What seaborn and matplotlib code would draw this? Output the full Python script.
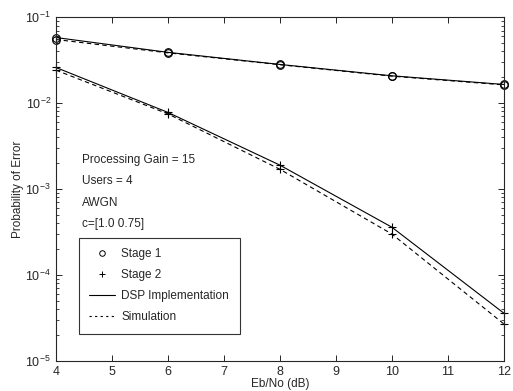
import matplotlib
matplotlib.use("Agg")
import matplotlib.pyplot as plt
from matplotlib.lines import Line2D
import seaborn as sns
import pandas as pd

ebno = [4, 6, 8, 10, 12]
stage1_dsp = [0.058, 0.039, 0.0282, 0.0208, 0.0165]
stage1_sim = [0.055, 0.0385, 0.0280, 0.0206, 0.0163]
stage2_dsp = [0.026, 0.0078, 0.0019, 3.6e-4, 3.6e-5]
stage2_sim = [0.0242, 0.0075, 0.0017, 3.0e-4, 2.7e-5]

notes = ["Processing Gain = 15", "Users = 4", "AWGN", "c=[1.0 0.75]"]

sns.set_style("ticks")
plt.rcParams["font.family"] = ["Liberation Sans", "DejaVu Sans"]
plt.rcParams["mathtext.fontset"] = "custom"
plt.rcParams["mathtext.rm"] = "Liberation Sans"

fig = plt.figure(figsize=(5.13, 3.91), dpi=100)
ax = fig.add_axes([0.109, 0.077, 0.873, 0.879])

series = [
    (stage1_dsp, "-", "o"),
    (stage1_sim, (0, (4, 3)), "o"),
    (stage2_dsp, "-", "+"),
    (stage2_sim, (0, (4, 3)), "+"),
]
for vals, ls, mk in series:
    df = pd.DataFrame({"x": ebno, "y": vals})
    sns.lineplot(data=df, x="x", y="y", ax=ax, color="black", linewidth=0.8,
                 linestyle=ls, marker=mk, markersize=5.5, markerfacecolor="none",
                 markeredgecolor="black", markeredgewidth=0.8, clip_on=False)

ax.set_yscale("log")
ax.set_xlim(4, 12)
ax.set_ylim(1e-5, 1e-1)
ax.set_xticks(range(4, 13))
ax.tick_params(which="both", direction="in", top=True, right=True, labelsize=9)
ax.tick_params(which="major", length=4, width=0.7)
ax.tick_params(which="minor", length=2, width=0.6)
for s in ax.spines.values():
    s.set_linewidth(0.8)
    s.set_visible(True)

ax.set_xlabel("Eb/No (dB)", fontsize=8.5, labelpad=0)
ax.set_ylabel("Probability of Error", fontsize=8.5, labelpad=1)

for i, t in enumerate(notes):
    ax.text(4.47, 10 ** (-2.66 - i * 0.25), t, fontsize=8.5, va="center")

handles = [
    Line2D([], [], color="black", linestyle="none", marker="o", markerfacecolor="none",
           markersize=4, markeredgewidth=0.7),
    Line2D([], [], color="black", linestyle="none", marker="+", markersize=5,
           markeredgewidth=0.7),
    Line2D([], [], color="black", linestyle="-", linewidth=0.8),
    Line2D([], [], color="black", linestyle=(0, (2, 3)), linewidth=0.8),
]
labels = ["Stage 1", "Stage 2", "DSP Implementation", "Simulation"]
leg = ax.legend(handles, labels, loc="upper left", bbox_to_anchor=(0.051, 0.358),
                borderaxespad=0, fontsize=8.5, frameon=True, fancybox=False,
                edgecolor="black", handlelength=2.2, labelspacing=0.75,
                borderpad=0.9, handletextpad=0.5)
leg.get_frame().set_linewidth(0.8)

fig.savefig("out.png", dpi=100)
